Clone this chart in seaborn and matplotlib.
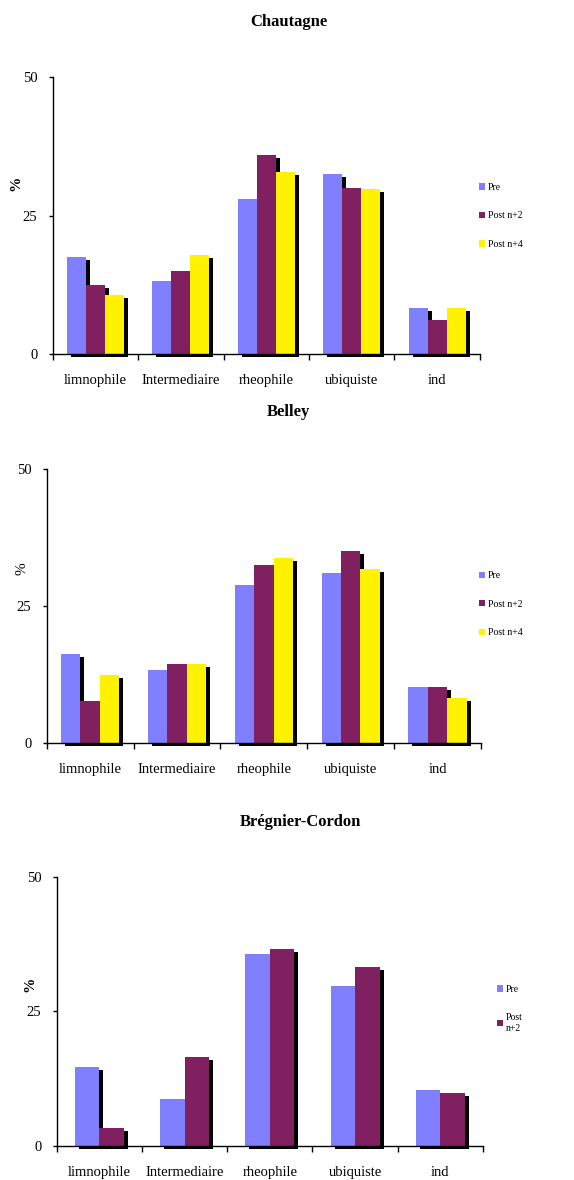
import numpy as np
import pandas as pd
import matplotlib
matplotlib.use('Agg')
import matplotlib.pyplot as plt
import matplotlib.transforms as mtransforms
from matplotlib.patches import Patch
import seaborn as sns

# ---------------- data ----------------
categories = ['limnophile', 'Intermediaire', 'rheophile', 'ubiquiste', 'ind']
periods = ['Pre', 'Post n+2', 'Post n+4']

chautagne_pre = [17.6, 13.1, 28.0, 32.5, 8.3]
chautagne_n2 = [12.4, 14.9, 36.0, 30.0, 6.1]
chautagne_n4 = [10.6, 17.8, 32.8, 29.7, 8.3]

belley_pre = [16.3, 13.3, 28.9, 31.0, 10.2]
belley_n2 = [7.7, 14.3, 32.5, 35.0, 10.2]
belley_n4 = [12.3, 14.3, 33.7, 31.7, 8.2]

bregnier_pre = [14.7, 8.7, 35.8, 29.8, 10.3]
bregnier_n2 = [3.2, 16.5, 36.6, 33.2, 9.75]

titles = ['Chautagne', 'Belley', 'Brégnier-Cordon']
y_ticks = [0, 25, 50]
legend_labels_3 = ['Pre', 'Post\nn+2']

colors = {'Pre': '#8080ff', 'Post n+2': '#802060', 'Post n+4': '#fff200'}

# ---------------- style ----------------
sns.set_style('white')
plt.rcParams['font.family'] = ['Liberation Serif', 'DejaVu Serif']
plt.rcParams['text.color'] = 'black'
plt.rcParams['axes.labelcolor'] = 'black'
plt.rcParams['xtick.color'] = 'black'
plt.rcParams['ytick.color'] = 'black'

W, H, DPI = 574, 1180, 100
fig = plt.figure(figsize=(W / DPI, H / DPI), dpi=DPI)


def make_df(series_list, names):
    rows = []
    for name, vals in zip(names, series_list):
        for c, v in zip(categories, vals):
            rows.append({'cat': c, 'period': name, 'val': v})
    return pd.DataFrame(rows)


panels = [
    dict(series=[chautagne_pre, chautagne_n2, chautagne_n4], names=periods,
         rect=[0.0918, 0.700, 0.7442, 0.2347], width=0.67,
         title_xy=(0.553, 1.199), ylab_xy=(-0.0866, 0.617), ylab_bold=True,
         leg_xy=(0.8345, 0.817), leg_labels=periods),
    dict(series=[belley_pre, belley_n2, belley_n4], names=periods,
         rect=[0.0813, 0.3706, 0.7567, 0.2317], width=0.67,
         title_xy=(0.556, 1.211), ylab_xy=(-0.0576, 0.636), ylab_bold=False,
         leg_xy=(0.8345, 0.488), leg_labels=periods),
    dict(series=[bregnier_pre, bregnier_n2], names=periods[:2],
         rect=[0.0988, 0.0291, 0.7427, 0.2274], width=0.575,
         title_xy=(0.571, 1.207), ylab_xy=(-0.0626, 0.60), ylab_bold=True,
         leg_xy=(0.866, 0.145), leg_labels=legend_labels_3),
]

shadow_offset = mtransforms.ScaledTranslation(4 / DPI, -3 / DPI, fig.dpi_scale_trans)

for i, p in enumerate(panels):
    ax = fig.add_axes(p['rect'])
    df = make_df(p['series'], p['names'])
    pal = {n: colors[n] for n in p['names']}
    black = {n: 'black' for n in p['names']}

    # shadow bars
    n0 = len(ax.patches)
    sns.barplot(data=df, x='cat', y='val', hue='period', order=categories,
                hue_order=p['names'], palette=black, width=p['width'],
                saturation=1, errorbar=None, legend=False, linewidth=0, ax=ax)
    for patch in ax.patches[n0:]:
        patch.set_transform(ax.transData + shadow_offset)
        patch.set_clip_on(False)
        patch.set_zorder(1)

    # coloured bars
    n1 = len(ax.patches)
    sns.barplot(data=df, x='cat', y='val', hue='period', order=categories,
                hue_order=p['names'], palette=pal, width=p['width'],
                saturation=1, errorbar=None, legend=False, linewidth=0, ax=ax)
    for patch in ax.patches[n1:]:
        patch.set_zorder(2)
        patch.set_clip_on(False)

    ax.set_xlim(-0.5, len(categories) - 0.5)
    ax.set_ylim(0, 50)
    ax.set_yticks(y_ticks)
    ax.set_yticklabels([str(t) for t in y_ticks])
    ax.set_xticks(range(len(categories)))
    ax.set_xticklabels(categories)
    ax.set_xticks(np.arange(-0.5, len(categories)), minor=True)
    ax.tick_params(axis='x', which='major', length=0, pad=14.5, labelsize=10.5)
    ax.tick_params(axis='x', which='minor', length=4, width=1, direction='out',
                   color='black', bottom=True)
    ax.tick_params(axis='y', which='major', length=3, width=1, direction='out',
                   color='black', left=True, pad=8, labelsize=10.5)
    for s in ['top', 'right']:
        ax.spines[s].set_visible(False)
    for s in ['left', 'bottom']:
        ax.spines[s].set_color('black')
        ax.spines[s].set_linewidth(1)
        ax.spines[s].set_zorder(3)

    ax.set_xlabel('')
    ax.set_ylabel('%', fontsize=11,
                  fontweight='bold' if p['ylab_bold'] else 'normal',
                  va='center', ha='center')
    ax.yaxis.set_label_coords(*p['ylab_xy'])

    ax.set_title(titles[i], x=p['title_xy'][0], y=p['title_xy'][1], pad=0,
                 fontsize=12, fontweight='bold', va='center')

    handles = [Patch(facecolor=colors[n], edgecolor='none') for n in p['names']]
    ax.legend(handles, p['leg_labels'], loc='center left',
              bbox_to_anchor=p['leg_xy'], bbox_transform=fig.transFigure,
              frameon=False, fontsize=7, borderpad=0, borderaxespad=0,
              handlelength=0.6, handleheight=0.6, handletextpad=0.3,
              labelspacing=2.0)

fig.savefig('out.png', dpi=DPI)
